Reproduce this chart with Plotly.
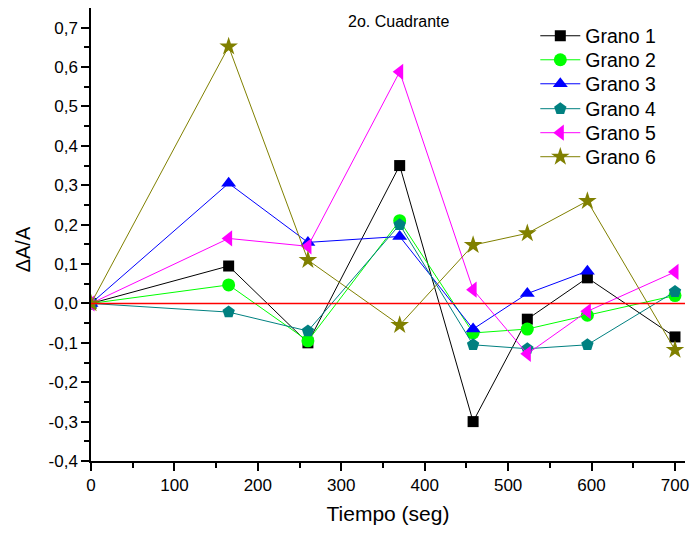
import plotly.graph_objects as go

tiempo = [0, 165, 260, 370, 458, 523, 595, 700]
grano1 = [0, 0.095, -0.100, 0.350, -0.300, -0.040, 0.065, -0.085]
grano2 = [0, 0.047, -0.095, 0.210, -0.075, -0.065, -0.030, 0.020]
grano3 = [0, 0.305, 0.155, 0.170, -0.065, 0.025, 0.082]
grano4 = [0, -0.022, -0.070, 0.200, -0.105, -0.115, -0.105, 0.030]
grano5 = [0, 0.165, 0.145, 0.588, 0.035, -0.128, -0.020, 0.080]
grano6 = [0, 0.652, 0.110, -0.055, 0.148, 0.178, 0.260, -0.118]

names = ["Grano 1", "Grano 2", "Grano 3", "Grano 4", "Grano 5", "Grano 6"]
series = [grano1, grano2, grano3, grano4, grano5, grano6]
colors = ["#000000", "#00ff00", "#0000ff", "#008080", "#ff00ff", "#808000"]
symbols = ["square", "circle", "triangle-up", "pentagon", "triangle-left", "star"]
sizes = [11, 13, 13, 13, 14, 14]

ytickvals = [-0.4, -0.3, -0.2, -0.1, 0.0, 0.1, 0.2, 0.3, 0.4, 0.5, 0.6, 0.7]
yticktext = ["-0,4", "-0,3", "-0,2", "-0,1", "0,0", "0,1", "0,2", "0,3", "0,4", "0,5", "0,6", "0,7"]
yminor = [-0.35, -0.25, -0.15, -0.05, 0.05, 0.15, 0.25, 0.35, 0.45, 0.55, 0.65]
xtickvals = [0, 100, 200, 300, 400, 500, 600, 700]
baseline_x = [0, 712]
baseline_y = [0, 0]

font_family = "Liberation Sans, Arial, sans-serif"

# one legend box per series so the row spacing can match the original
legend_ids = ["legend", "legend2", "legend3", "legend4", "legend5", "legend6"]
legend_rows = [0.938, 0.885, 0.832, 0.777, 0.724, 0.671]

fig = go.Figure()

for n, s, c, sym, sz, lg in zip(names, series, colors, symbols, sizes, legend_ids):
    fig.add_trace(go.Scatter(
        x=tiempo[:len(s)], y=s, name=n, mode="lines+markers",
        line=dict(color=c, width=1),
        marker=dict(symbol=sym, size=sz, color=c, line=dict(width=0)),
        legend=lg,
    ))

fig.add_trace(go.Scatter(x=baseline_x, y=baseline_y, mode="lines",
                         line=dict(color="#ff0000", width=1.5), showlegend=False,
                         hoverinfo="skip"))

legend_layout = {}
for lg, yv in zip(legend_ids, legend_rows):
    legend_layout[lg] = dict(x=0.748, y=yv, xanchor="left", yanchor="middle",
                             font=dict(size=19.5, family=font_family, color="black"),
                             bgcolor="rgba(0,0,0,0)", itemwidth=40)

fig.update_layout(
    width=696, height=535,
    margin=dict(l=91, r=7, t=8, b=74),
    paper_bgcolor="white", plot_bgcolor="white",
    font=dict(family=font_family, color="black", size=17),
    showlegend=True,
    xaxis=dict(range=[0, 712], tickvals=xtickvals, showgrid=False, zeroline=False,
               showline=True, linecolor="black", linewidth=1.5,
               ticks="outside", ticklen=8, tickwidth=1.5, tickcolor="black",
               minor=dict(dtick=50, ticks="outside", ticklen=5, tickwidth=1.5, tickcolor="black"),
               tickfont=dict(size=17),
               title=dict(text="Tiempo (seg)", font=dict(size=21), standoff=12)),
    yaxis=dict(range=[-0.4, 0.75], tickvals=ytickvals, ticktext=yticktext,
               showgrid=False, zeroline=False,
               showline=True, linecolor="black", linewidth=1.5,
               ticks="outside", ticklen=8, tickwidth=1.5, tickcolor="black",
               minor=dict(tickvals=yminor, ticks="outside", ticklen=5, tickwidth=1.5, tickcolor="black"),
               tickfont=dict(size=17)),
    annotations=[
        dict(text="2o. Cuadrante", x=0.518, y=0.993, xref="paper", yref="paper",
             xanchor="center", yanchor="top", showarrow=False,
             font=dict(size=16, family=font_family)),
        dict(text="ΔA/A", x=-0.113, y=0.467, xref="paper", yref="paper",
             xanchor="center", yanchor="middle", textangle=-90, showarrow=False,
             font=dict(size=20, family=font_family)),
    ],
    **legend_layout,
)

fig.write_html("out.html")
